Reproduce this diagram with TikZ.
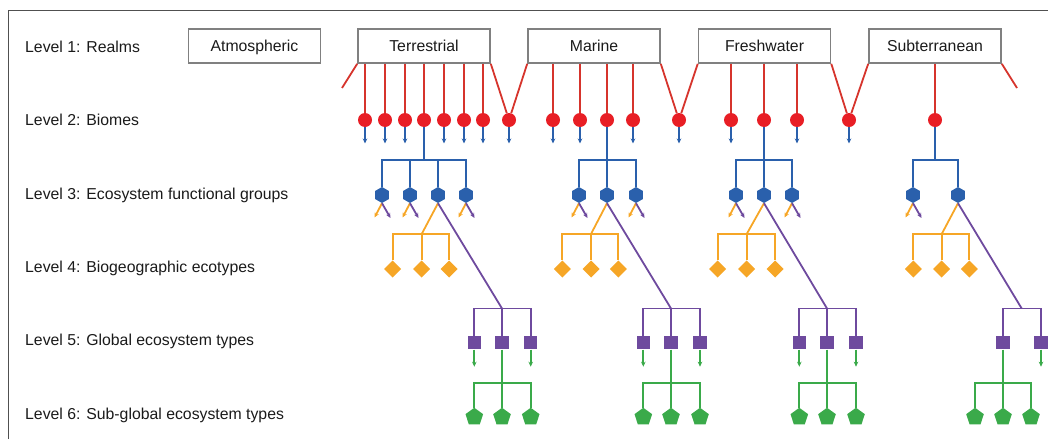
\documentclass[tikz,border=0pt]{standalone}
\usepackage{fontspec}
\setmainfont{Liberation Sans}
\usetikzlibrary{shapes.geometric,arrows.meta}
\definecolor{redline}{RGB}{214,52,44}
\definecolor{redfill}{RGB}{232,30,37}
\definecolor{bl}{RGB}{42,96,172}
\definecolor{org}{RGB}{246,166,38}
\definecolor{pur}{RGB}{110,74,158}
\definecolor{grn}{RGB}{58,170,74}
\definecolor{framec}{RGB}{80,80,80}
\definecolor{boxgray}{RGB}{128,128,128}
\definecolor{txt}{RGB}{26,26,26}
\begin{document}
\begin{tikzpicture}[x=1pt,y=-1pt,
 font=\fontsize{15.8}{18}\selectfont,
 realm/.style={draw=boxgray, line width=1.6pt, minimum width=132pt, minimum height=34pt, inner sep=0pt, text height=11.3pt, text depth=0pt, text=txt},
 lvl/.style={anchor=base west, inner sep=0pt, text=txt},
 biome/.style={circle, fill=redfill, minimum size=14pt, inner sep=0pt},
 efg/.style={regular polygon, regular polygon sides=6, shape border rotate=30, fill=bl, minimum size=16pt, inner sep=0pt},
 eco/.style={regular polygon, regular polygon sides=4, shape border rotate=45, fill=org, minimum size=17pt, inner sep=0pt},
 get/.style={rectangle, fill=pur, minimum size=13.5pt, inner sep=0pt},
 sget/.style={regular polygon, regular polygon sides=5, fill=grn, minimum size=18.5pt, inner sep=0pt},
 redl/.style={draw=redline, line width=1.8pt},
 bll/.style={draw=bl, line width=1.8pt},
 bla/.style={bll, -{Stealth[length=5pt,width=4.5pt]}},
 orl/.style={draw=org, line width=1.8pt},
 ora/.style={orl, -{Stealth[length=5pt,width=4.5pt]}},
 pul/.style={draw=pur, line width=1.8pt},
 pua/.style={pul, -{Stealth[length=5pt,width=4.5pt]}},
 grl/.style={draw=grn, line width=1.8pt},
 gra/.style={grl, -{Stealth[length=5pt,width=4.5pt]}}
]
\useasboundingbox (0,0) rectangle (1048,439);
\draw[framec, line width=1pt] (8,439) -- (8,10) -- (1048,10);

% level labels
\node[lvl] (L1) at (25,52.3) {Level 1: Realms};
\node[lvl] (L2) at (25,125.7) {Level 2: Biomes};
\node[lvl] (L3) at (25,199.1) {Level 3: Ecosystem functional groups};
\node[lvl] (L4) at (25,272.5) {Level 4: Biogeographic ecotypes};
\node[lvl] (L5) at (25,345.9) {Level 5: Global ecosystem types};
\node[lvl] (L6) at (25,419.3) {Level 6: Sub-global ecosystem types};

% realms
\node[realm] (atm) at (254.5,46) {Atmospheric};
\node[realm] (ter) at (424,46) {Terrestrial};
\node[realm] (mar) at (594,46) {Marine};
\node[realm] (fre) at (764.5,46) {Freshwater};
\node[realm] (sub) at (935,46) {Subterranean};

% biomes
\foreach \x/\n/\r in {365/t1/ter,385/t2/ter,405/t3/ter,424/t4/ter,444/t5/ter,464/t6/ter,483/t7/ter,
  553/m1/mar,580/m2/mar,607/m3/mar,633/m4/mar,
  731/f1/fre,764/f2/fre,797/f3/fre,935/s1/sub}{
  \node[biome] (\n) at (\x,120) {};
  \draw[redl] (\n |- \r.south) -- (\n);
}
\node[biome] (tm) at (509,120) {};
\node[biome] (mf) at (679,120) {};
\node[biome] (fs) at (849,120) {};
\draw[redl] (ter.south east) -- (tm);
\draw[redl] (mar.south west) -- (tm);
\draw[redl] (mar.south east) -- (mf);
\draw[redl] (fre.south west) -- (mf);
\draw[redl] (fre.south east) -- (fs);
\draw[redl] (sub.south west) -- (fs);
\coordinate (stubL) at (342,88);
\coordinate (stubR) at (1017,88);
\draw[redl] (ter.south west) -- (stubL);
\draw[redl] (sub.south east) -- (stubR);

\foreach \n in {t1,t2,t3,t5,t6,t7,tm,m1,m2,m4,mf,f1,f3,fs}{
  \path (\n) ++(0,23.5) coordinate (\n-e);
  \draw[bla] (\n) -- (\n-e);
}

% level 3: ecosystem functional groups
\foreach \x/\n in {382/th1,410/th2,438/th3,466/th4,579/mh1,607/mh2,636/mh3,736/fh1,764/fh2,792/fh3,913/sh1,958/sh2}{
  \node[efg] (\n) at (\x,195) {};
}
\coordinate (tj3) at (424,160);
\draw[bll] (t4) -- (tj3);
\draw[bll] (th1) |- (tj3) -| (th4);
\draw[bll] (th2) -- (th2 |- tj3);
\draw[bll] (th3) -- (th3 |- tj3);
\coordinate (mj3) at (607,160);
\draw[bll] (m3) -- (mj3);
\draw[bll] (mh1) |- (mj3) -| (mh3);
\draw[bll] (mh2) -- (mj3);
\coordinate (fj3) at (764,160);
\draw[bll] (f2) -- (fj3);
\draw[bll] (fh1) |- (fj3) -| (fh3);
\draw[bll] (fh2) -- (fj3);
\coordinate (sj3) at (935,160);
\draw[bll] (s1) -- (sj3);
\draw[bll] (sh1) |- (sj3) -| (sh2);

\foreach \n in {th1,th2,th4,mh1,mh3,fh1,fh3,sh1}{
  \path (\n) ++(-7.5,22.5) coordinate (\n-o);
  \path (\n) ++(8.5,23) coordinate (\n-p);
  \draw[ora] (\n.south) -- (\n-o);
  \draw[pua] (\n.south) -- (\n-p);
}

% level 4: biogeographic ecotypes
\foreach \x/\n in {392.7/td1,421.7/td2,449/td3,562.3/md1,591/md2,618.3/md3,717.7/fd1,746.7/fd2,775/fd3,913.3/sd1,941.7/sd2,969.3/sd3}{
  \node[eco] (\n) at (\x,269) {};
}
\foreach \p/\h/\x in {t/th3/421.7,m/mh2/591,f/fh2/746.7,s/sh2/941.7}{
  \coordinate (\p j4) at (\x,234);
  \draw[orl] (\h.south) -- (\p j4);
  \draw[orl] (\p d1) |- (\p j4) -| (\p d3);
  \draw[orl] (\p d2) -- (\p j4);
}

% level 5: global ecosystem types
\foreach \x/\n in {474.3/ts1,502/ts2,530.7/ts3,643.3/ms1,671/ms2,700/ms3,799.3/fs1,827/fs2,856/fs3,1003/ss1,1041/ss2}{
  \node[get] (\n) at (\x,342.7) {};
}
\foreach \p/\h/\x in {t/th3/502,m/mh2/671,f/fh2/827}{
  \coordinate (\p j5) at (\x,308.5);
  \draw[pul] (\h.south) -- (\p j5);
  \draw[pul] (\p s1) |- (\p j5) -| (\p s3);
  \draw[pul] (\p s2) -- (\p j5);
}
\coordinate (sj5) at (1021.7,308.5);
\draw[pul] (sh2.south) -- (sj5);
\draw[pul] (ss1) |- (sj5) -| (ss2);

\foreach \n in {ts1,ts3,ms1,ms3,fs1,fs3,ss2}{
  \path (\n) ++(0,24) coordinate (\n-g);
  \draw[gra] (\n) -- (\n-g);
}

% level 6: sub-global ecosystem types
\foreach \x/\n in {474.3/tp1,502/tp2,530.7/tp3,643.3/mp1,671/mp2,700/mp3,799.3/fp1,827/fp2,856/fp3,975/sp1,1003/sp2,1031/sp3}{
  \node[sget] (\n) at (\x,417) {};
}
\foreach \p/\s/\x in {t/ts2/502,m/ms2/671,f/fs2/827,s/ss1/1003}{
  \coordinate (\p j6) at (\x,382.7);
  \draw[grl] (\s) -- (\p j6);
  \draw[grl] (\p p1) |- (\p j6) -| (\p p3);
  \draw[grl] (\p p2) -- (\p j6);
}
\end{tikzpicture}
\end{document}
